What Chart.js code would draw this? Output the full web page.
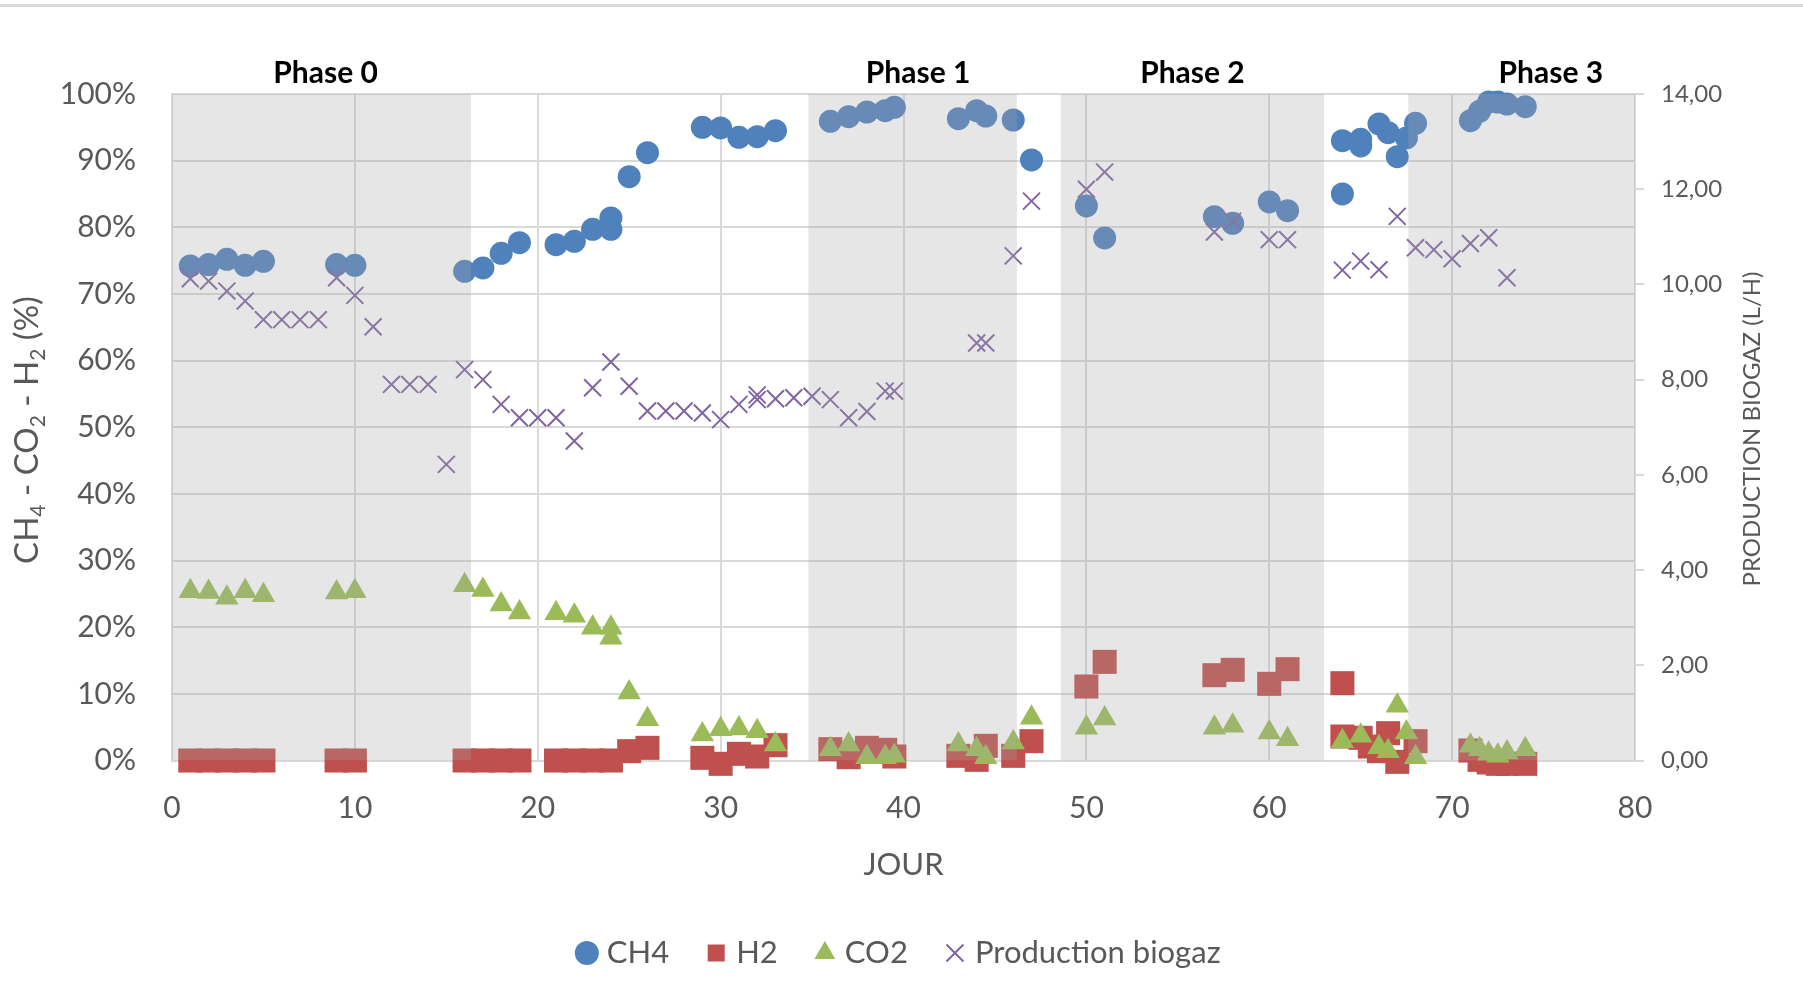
<!DOCTYPE html>
<html>
<head>
<meta charset="utf-8">
<title>CH4 - CO2 - H2 et production de biogaz</title>
<script src="https://cdn.jsdelivr.net/npm/chart.js@4.4.1/dist/chart.umd.min.js"></script>
<style>
  html, body { margin: 0; padding: 0; background: #ffffff; }
  #chart { display: block; }
</style>
</head>
<body>
<canvas id="chart" width="1803" height="999"></canvas>
<script>
// values (day, %)
const ch4Days = [1, 2, 3, 4, 5, 9, 10, 16, 17, 18, 19, 21, 22, 23, 24, 24, 25, 26, 29, 30, 31, 32, 33,
  36, 37, 38, 39, 39.5, 43, 44, 44.5, 46, 47, 50, 51, 57, 58, 60, 61, 64, 64, 65, 65, 66, 66.5, 67, 67.5, 68,
  71, 71.5, 72, 72.5, 73, 74];
const ch4Values = [74.2, 74.4, 75.2, 74.3, 74.9, 74.4, 74.3, 73.4, 73.9, 76.1, 77.7, 77.4, 77.9, 79.7, 81.4, 79.7, 87.6, 91.2, 95.0, 94.9, 93.5, 93.6, 94.5,
  95.9, 96.6, 97.3, 97.5, 98.0, 96.3, 97.5, 96.7, 96.1, 90.1, 83.2, 78.4, 81.6, 80.6, 83.8, 82.5, 85.0, 93.0, 92.2, 93.2, 95.5, 94.2, 90.6, 93.4, 95.6,
  96.0, 97.4, 98.8, 98.8, 98.5, 98.1];

const h2Days = [1, 2, 3, 4, 5, 9, 10, 16, 17, 18, 19, 21, 22, 23, 24, 25, 26, 29, 30, 31, 32, 33,
  36, 37, 38, 39, 39.5, 43, 44, 44.5, 46, 47, 50, 51, 57, 58, 60, 61, 64, 64, 65, 65.5, 66, 66.5, 67, 68,
  71, 71.5, 72, 72.5, 73, 74];
const h2Values = [0, 0, 0, 0, 0, 0, 0, 0, 0, 0, 0, 0, 0, 0, 0, 1.4, 1.9, 0.4, -0.5, 1.0, 0.6, 2.3,
  1.7, 0.5, 1.9, 1.6, 0.6, 0.7, 0.1, 2.2, 0.7, 2.9, 11.1, 14.8, 12.8, 13.6, 11.5, 13.7, 11.6, 3.6, 3.4, 2.1, 1.4, 4.1, -0.2, 2.9,
  1.5, 0.1, -0.3, -0.5, -0.5, -0.5];

const co2Days = [1, 2, 3, 4, 5, 9, 10, 16, 17, 18, 19, 21, 22, 23, 24, 24, 25, 26, 29, 30, 31, 32, 33,
  36, 37, 38, 39, 39.5, 43, 44, 44.5, 46, 47, 50, 51, 57, 58, 60, 61, 64, 65, 66, 66.5, 67, 67.5, 68,
  71, 71.5, 72, 72.5, 73, 74];
const co2Values = [25.4, 25.3, 24.4, 25.4, 24.8, 25.2, 25.4, 26.3, 25.6, 23.4, 22.2, 22.1, 21.7, 19.9, 19.9, 18.4, 10.2, 6.2, 3.9, 4.7, 4.8, 4.4, 2.4,
  1.7, 2.4, 0.5, 0.5, 0.7, 2.4, 1.7, 0.5, 2.7, 6.4, 4.9, 6.3, 4.9, 5.2, 4.2, 3.2, 2.9, 3.7, 2.0, 1.4, 8.2, 4.2, 0.5,
  2.2, 1.7, 1.0, 0.7, 1.2, 1.7];

// biogas production (L/H), right axis
const biogasDays = [1, 2, 3, 4, 5, 6, 7, 8, 9, 10, 11, 12, 13, 14, 15, 16, 17, 18, 19, 20, 21, 22, 23, 24, 25,
  26, 27, 28, 29, 30, 31, 32, 32, 33, 34, 35, 36, 37, 38, 39, 39.5, 44, 44.5, 46, 47, 50, 51,
  57, 58, 60, 61, 64, 65, 66, 67, 68, 69, 70, 71, 72, 73];
const biogasValues = [10.12, 10.07, 9.86, 9.65, 9.26, 9.26, 9.26, 9.26, 10.14, 9.77, 9.11, 7.9, 7.9, 7.9, 6.22, 8.21, 8.0, 7.48, 7.2, 7.2, 7.2, 6.71, 7.83, 8.37, 7.86,
  7.34, 7.34, 7.34, 7.3, 7.16, 7.48, 7.68, 7.58, 7.6, 7.62, 7.65, 7.58, 7.2, 7.33, 7.76, 7.76, 8.77, 8.77, 10.6, 11.75, 12.0, 12.36,
  11.1, 11.33, 10.94, 10.94, 10.3, 10.49, 10.31, 11.43, 10.77, 10.73, 10.54, 10.86, 10.98, 10.14];

// phases
const phaseNames = ['Phase 0', 'Phase 1', 'Phase 2', 'Phase 3'];
const phaseLabelDays = [8.4, 40.8, 55.8, 75.4];
const shadeStart = [0, 34.8, 48.6, 67.6];
const shadeEnd = [16.35, 46.2, 63.0, 80];

const FONT = 'Lato, "Open Sans", sans-serif';
const GREY_TEXT = '#595959';
const GRID = '#d9d9d9';

function points(days, values) {
  return days.map((d, i) => ({ x: d, y: values[i] }));
}

// top frame line + grey phase bands + texts
const decorations = {
  id: 'decorations',
  beforeDraw(chart) {
    const ctx = chart.ctx;
    ctx.save();
    ctx.fillStyle = GRID;
    ctx.fillRect(0, 4, chart.width, 3);
    ctx.restore();
  },
  afterDatasetsDraw(chart) {
    const { ctx, chartArea } = chart;
    const x = chart.scales.x;
    ctx.save();
    ctx.beginPath();
    ctx.rect(chartArea.left, chartArea.top, chartArea.right - chartArea.left, chartArea.bottom - chartArea.top);
    ctx.clip();
    ctx.fillStyle = 'rgba(166,166,166,0.28)';
    shadeStart.forEach((s, i) => {
      const x1 = x.getPixelForValue(s);
      const x2 = x.getPixelForValue(shadeEnd[i]);
      ctx.fillRect(x1, chartArea.top, x2 - x1, chartArea.bottom - chartArea.top);
    });
    ctx.restore();
  },
  afterDraw(chart) {
    const { ctx, chartArea } = chart;
    const x = chart.scales.x;
    ctx.save();

    // phase labels
    ctx.fillStyle = '#000000';
    ctx.font = 'bold 30px ' + FONT;
    ctx.textAlign = 'center';
    ctx.textBaseline = 'alphabetic';
    phaseNames.forEach((name, i) => {
      ctx.fillText(name, x.getPixelForValue(phaseLabelDays[i]), 83);
    });

    // x axis title
    ctx.fillStyle = GREY_TEXT;
    ctx.font = '31px ' + FONT;
    ctx.fillText('JOUR', (chartArea.left + chartArea.right) / 2, 875);

    // left axis title with subscripts
    const parts = [['CH', false], ['4', true], [' - CO', false], ['2', true], [' - H', false], ['2', true], [' (%)', false]];
    const big = '33px ' + FONT, small = '21px ' + FONT;
    let total = 0;
    parts.forEach(p => { ctx.font = p[1] ? small : big; total += ctx.measureText(p[0]).width; });
    ctx.translate(38, 430);
    ctx.rotate(-Math.PI / 2);
    ctx.textAlign = 'left';
    let cx = -total / 2;
    parts.forEach(p => {
      ctx.font = p[1] ? small : big;
      ctx.fillText(p[0], cx, p[1] ? 7 : 0);
      cx += ctx.measureText(p[0]).width;
    });
    ctx.setTransform(1, 0, 0, 1, 0, 0);

    // right axis title
    ctx.translate(1760, 429);
    ctx.rotate(-Math.PI / 2);
    ctx.textAlign = 'center';
    ctx.font = '24px ' + FONT;
    ctx.fillText('PRODUCTION BIOGAZ (L/H)', 0, 0);
    ctx.restore();
  }
};

new Chart(document.getElementById('chart').getContext('2d'), {
  type: 'scatter',
  data: {
    datasets: [
      {
        label: 'CH4', data: points(ch4Days, ch4Values), yAxisID: 'y', order: 4,
        pointStyle: 'circle', pointRadius: 11.5, pointHoverRadius: 11.5,
        backgroundColor: '#4f81bd', borderColor: '#4f81bd', borderWidth: 0, clip: false
      },
      {
        label: 'H2', data: points(h2Days, h2Values), yAxisID: 'y', order: 3,
        pointStyle: 'rect', pointRadius: 17, pointHoverRadius: 17,
        backgroundColor: '#c0504d', borderColor: '#c0504d', borderWidth: 0, clip: false
      },
      {
        label: 'CO2', data: points(co2Days, co2Values), yAxisID: 'y', order: 2,
        pointStyle: 'triangle', pointRadius: 13.5, pointHoverRadius: 13.5,
        backgroundColor: '#9bbb59', borderColor: '#9bbb59', borderWidth: 0, clip: false
      },
      {
        label: 'Production biogaz', data: points(biogasDays, biogasValues), yAxisID: 'y1', order: 1,
        pointStyle: 'crossRot', pointRadius: 12, pointHoverRadius: 12,
        backgroundColor: '#8064a2', borderColor: '#8064a2', borderWidth: 2, clip: false
      }
    ]
  },
  options: {
    responsive: false,
    animation: false,
    events: [],
    layout: { padding: { top: 94, left: 0, right: 0, bottom: 20.5 } },
    scales: {
      x: {
        type: 'linear', min: 0, max: 80,
        ticks: { stepSize: 10, padding: 30, color: GREY_TEXT, font: { family: FONT, size: 30 } },
        grid: { color: GRID, lineWidth: 2, drawTicks: false },
        border: { color: GRID, width: 2 },
        afterFit(s) { s.height = 134.5; }
      },
      y: {
        position: 'left', min: 0, max: 100,
        ticks: { stepSize: 10, padding: 36, color: GREY_TEXT, font: { family: FONT, size: 30 }, callback: v => v + '%' },
        grid: { color: GRID, lineWidth: 2, drawTicks: false },
        border: { color: GRID, width: 2 },
        afterFit(s) { s.width = 172; }
      },
      y1: {
        position: 'right', min: 0, max: 14,
        ticks: { stepSize: 2, padding: 17, color: GREY_TEXT, font: { family: FONT, size: 24 },
          callback: v => v.toFixed(2).replace('.', ',') },
        grid: { drawOnChartArea: false, color: GRID, lineWidth: 2, tickLength: 9 },
        border: { color: GRID, width: 2 },
        afterFit(s) { s.width = 168; }
      }
    },
    plugins: {
      legend: {
        position: 'bottom',
        labels: {
          usePointStyle: true, boxWidth: 9, boxHeight: 17, padding: 42.5,
          color: GREY_TEXT, font: { family: FONT, size: 31 },
          sort: (a, b) => a.datasetIndex - b.datasetIndex
        }
      },
      tooltip: { enabled: false }
    }
  },
  plugins: [decorations]
});
</script>
</body>
</html>
